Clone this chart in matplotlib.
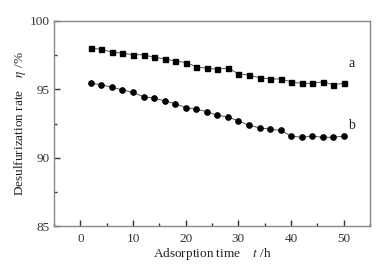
import numpy as np
import matplotlib
matplotlib.use("Agg")
import matplotlib.pyplot as plt
from matplotlib.ticker import MultipleLocator

# adsorption time (h)
time_h = np.arange(2, 52, 2)

# desulfurization rate (%)
rate_a = [98.03, 97.92, 97.73, 97.64, 97.53, 97.53, 97.34, 97.23, 97.07, 96.96,
          96.65, 96.54, 96.47, 96.54, 96.15, 96.03, 95.85, 95.76, 95.76, 95.55,
          95.44, 95.44, 95.55, 95.34, 95.44]
rate_b = [95.44, 95.34, 95.14, 94.96, 94.77, 94.45, 94.36, 94.15, 93.95, 93.67,
          93.55, 93.37, 93.09, 92.98, 92.69, 92.38, 92.18, 92.09, 92.00, 91.58,
          91.49, 91.58, 91.49, 91.49, 91.58]

plt.rcParams['font.family'] = ['Liberation Serif', 'DejaVu Serif']
plt.rcParams['mathtext.fontset'] = 'stix'

fig = plt.figure(figsize=(3.87, 2.76), dpi=100)
ax = fig.add_axes([0.1395, 0.181, 0.817, 0.743])

ax.plot(time_h, rate_a, '-', color='#555555', lw=0.7, marker='s', ms=3.6,
        mfc='black', mec='black')
ax.plot(time_h, rate_b, '-', color='#555555', lw=0.7, marker='o', ms=3.8,
        mfc='black', mec='black')

ax.text(50.8, 96.6, 'a', fontsize=10, color='#222222')
ax.text(50.8, 92.1, 'b', fontsize=10, color='#222222')

ax.set_xlim(-5, 55)
ax.set_ylim(85, 100)
ax.xaxis.set_major_locator(MultipleLocator(10))
ax.xaxis.set_minor_locator(MultipleLocator(5))
ax.yaxis.set_major_locator(MultipleLocator(5))
ax.yaxis.set_minor_locator(MultipleLocator(2.5))
ax.tick_params(which='both', direction='in', top=False, right=False,
               labelsize=9.5, colors='#333333')
ax.tick_params(axis='x', pad=5)
ax.tick_params(axis='y', pad=3)
ax.tick_params(which='major', length=4, width=1, color='#333333')
ax.tick_params(which='minor', length=2, width=1, color='#333333')
for s in ax.spines.values():
    s.set_color('#888888')
    s.set_linewidth(1)

ax.set_xlabel(r'Adsorption time    $\it{t}$ /h', fontsize=9.5, color='#222222', labelpad=1)
ax.set_ylabel(r'Desulfurization rate    $\it{\eta}$ /%', fontsize=9.5, color='#222222', labelpad=1)

fig.savefig('out.png', dpi=100)
